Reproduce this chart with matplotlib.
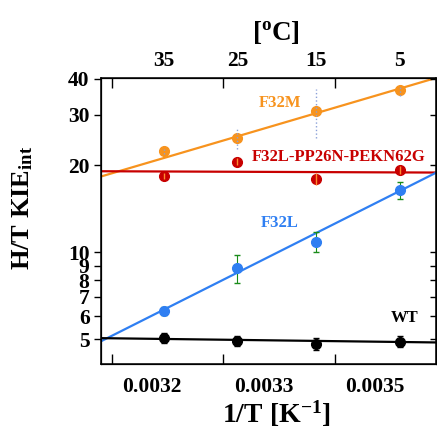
import numpy as np
import matplotlib.pyplot as plt
from matplotlib.ticker import NullLocator
from matplotlib.transforms import ScaledTranslation

plt.rcParams['font.family'] = ['Liberation Serif', 'DejaVu Serif']
plt.rcParams['font.weight'] = 'bold'
plt.rcParams['mathtext.fontset'] = 'custom'
plt.rcParams['mathtext.rm'] = 'Liberation Serif:bold'
plt.rcParams['mathtext.it'] = 'Liberation Serif:bold'
plt.rcParams['mathtext.bf'] = 'Liberation Serif:bold'

# temperatures and 1/T (K^-1)
temps_c = ['35', '25', '15', '5']
inv_t = [0.0032452, 0.0033540, 0.0034704, 0.0035952]

# intrinsic KIE values
kie_f32m = [22.4, 24.9, 30.9, 36.4]
err_f32m = [0.5, 2.1, 6.0, 1.7]
kie_triple = [18.4, 20.6, 18.0, 19.3]
err_triple = [0.5, 0.6, 0.9, 0.6]
kie_f32l = [6.25, 8.8, 10.9, 16.4]
err_f32l = [0.2, 1.0, 0.9, 1.1]
kie_wt = [5.06, 4.94, 4.82, 4.90]
err_wt = [0.2, 0.2, 0.23, 0.22]

# fitted lines, value at the left and right edge of the x range
fit_x = [0.0031512, 0.0036485]
fit_f32m = [18.3, 40.2]
fit_triple = [19.1, 18.9]
fit_f32l = [4.91, 18.85]
fit_wt = [5.04, 4.87]

# bottom axis ticks and their (offset) labels
xtick_pos = [0.003168, 0.0033335, 0.0034991]
xtick_lab = ['0.0032', '0.0033', '0.0035']
ytick_pos = [5, 6, 7, 8, 9, 10, 20, 30, 40]
ytick_lab = ['5', '6', '7', '8', '9', '10', '20', '30', '40']

c_orange = '#f7931e'
c_red = '#c80000'
c_blue = '#2f7ff2'
c_green = '#1a8c1a'

fig = plt.figure(figsize=(4.37, 4.29), dpi=100)
ax = fig.add_axes([0.2304, 0.1515, 0.7666, 0.6674])

ax.plot(fit_x, fit_f32m, color=c_orange, lw=1.6, zorder=2)
ax.plot(fit_x, fit_triple, color=c_red, lw=1.6, zorder=2)
ax.plot(fit_x, fit_f32l, color=c_blue, lw=1.6, zorder=2)
ax.plot(fit_x, fit_wt, color='black', lw=1.6, zorder=2)

ms = 7
ax.plot(inv_t, kie_f32m, 'o', color=c_orange, ms=ms, zorder=3)
eb = ax.errorbar(inv_t, kie_f32m, yerr=err_f32m, fmt='none', ecolor='#8aa0d8',
                 elinewidth=1, zorder=4)
eb[2][0].set_linestyle(':')
ax.plot(inv_t, kie_triple, 'o', color=c_red, ms=ms, zorder=3)
ax.errorbar(inv_t, kie_triple, yerr=err_triple, fmt='none', ecolor='#ff8c30',
            elinewidth=1, zorder=4)
ax.errorbar(inv_t, kie_f32l, yerr=err_f32l, fmt='o', color=c_blue, ms=ms,
            ecolor=c_green, elinewidth=0.8, capsize=2.2, zorder=3)
ax.errorbar(inv_t, kie_wt, yerr=err_wt, fmt='o', color='black', ms=ms,
            ecolor='black', elinewidth=0.8, capsize=2.2, zorder=3)

ax.set_yscale('log')
ax.set_xlim(fit_x)
ax.set_ylim(4.1, 40.3)

ax.set_yticks(ytick_pos, ytick_lab)
ax.yaxis.set_minor_locator(NullLocator())
ax.tick_params(axis='y', which='major', direction='out', length=5, width=1,
               pad=3, labelsize=15.5, right=False)

ax.set_xticks(xtick_pos, xtick_lab)
ax.tick_params(axis='x', which='major', direction='in', length=7, width=1,
               pad=9, labelsize=15.5, top=False)
# labels sit to the right of their ticks in the original
shift = ScaledTranslation(0.40, 0, fig.dpi_scale_trans)
for tick in ax.xaxis.get_major_ticks():
    tick.label1.set_transform(tick.label1.get_transform() + shift)

for s in ax.spines.values():
    s.set_linewidth(1.1)

# top temperature axis
ax_top = ax.twiny()
ax_top.set_xlim(fit_x)
ax_top.set_xticks(inv_t, temps_c)
ax_top.set_xticks(xtick_pos, minor=True)
ax_top.tick_params(axis='x', which='major', length=0, pad=5, labelsize=15.5)
ax_top.tick_params(axis='x', which='minor', direction='in', length=7, width=1)

# right side ticks (inward)
ax_r = ax.twinx()
ax_r.set_yscale('log')
ax_r.set_ylim(ax.get_ylim())
ax_r.set_yticks(ytick_pos)
ax_r.yaxis.set_minor_locator(NullLocator())
ax_r.tick_params(axis='y', direction='in', length=4, width=1, labelright=False)

ax.text(0.534, 0.912, 'F32M', color=c_orange, fontsize=12, ha='center',
        va='center', transform=ax.transAxes)
ax.text(0.711, 0.723, 'F32L-PP26N-PEKN62G', color=c_red, fontsize=12,
        ha='center', va='center', transform=ax.transAxes)
ax.text(0.534, 0.4925, 'F32L', color=c_blue, fontsize=12, ha='center',
        va='center', transform=ax.transAxes)
ax.text(0.906, 0.161, 'WT', color='black', fontsize=12, ha='center',
        va='center', transform=ax.transAxes)

fig.text(0.632, 0.925, r'[$^{\mathrm{o}}$C]', fontsize=19.5, ha='center', va='center')
fig.text(0.632, 0.035, r'1/T [K$^{\mathrm{-1}}$]', fontsize=20, ha='center', va='center')
fig.text(0.053, 0.515, r'H/T KIE$_{\mathrm{int}}$', fontsize=19, ha='center',
         va='center', rotation=90)

fig.savefig('out.png', dpi=100)
